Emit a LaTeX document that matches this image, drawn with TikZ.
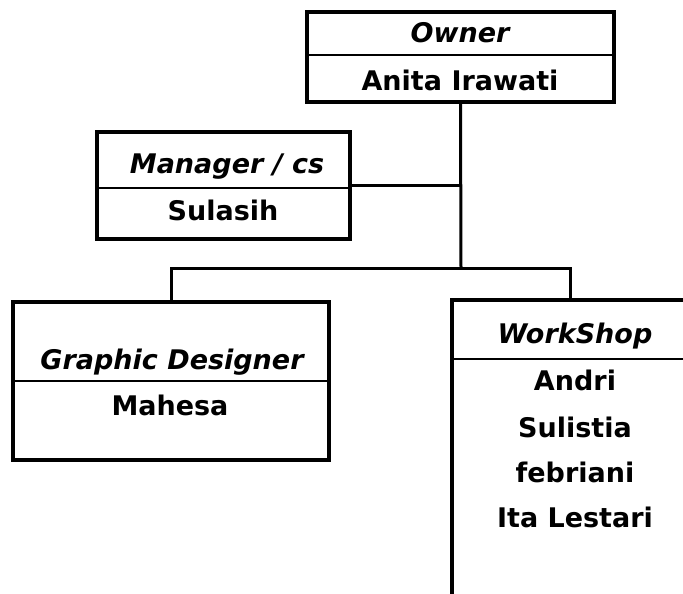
\documentclass[tikz,border=0pt]{standalone}
\usepackage{fontspec}
\setmainfont{DejaVu Sans}
\usetikzlibrary{positioning}

\tikzset{
  unitbox/.style 2 args={draw, line width=3.6pt, minimum width=#1, minimum height=#2, inner sep=0pt},
  rolename/.style={anchor=base, font=\fontsize{27}{32}\selectfont\bfseries\itshape},
  person/.style={anchor=base, font=\fontsize{27}{32}\selectfont\bfseries},
  divider/.style={line width=2.2pt},
  link/.style={line width=3pt},
}

\begin{document}
\begin{tikzpicture}[x=1pt, y=-1pt]
\useasboundingbox (0,0) rectangle (683,594);
\clip (0,0) rectangle (683,594);

% boxes
\node[unitbox={307pt}{90pt}] (owner) at (460.5,57) {};
\node[unitbox={253pt}{107pt}] (manager) at (223.5,185.5) {};
\node[unitbox={316pt}{158pt}] (graphic) at (171,381) {};
\node[unitbox={268pt}{340pt}] (workshop) at (586,470) {};

% dividers
\draw[divider] (owner.west |- 0,55) -- (owner.east |- 0,55);
\draw[divider] (manager.west |- 0,188) -- (manager.east |- 0,188);
\draw[divider] (graphic.west |- 0,381) -- (graphic.east |- 0,381);
\draw[divider] (workshop.west |- 0,359) -- (workshop.east |- 0,359);

% titles and names
\node[rolename] (ownertitle) at (460,43) {Owner};
\node[person] (ownername) at (460,91) {Anita Irawati};

\node[rolename] (managertitle) at (227,173) {Manager / cs};
\node[person] (managername) at (223,220) {Sulasih};

\node[rolename] (graphictitle) at (172,369) {Graphic Designer};
\node[person] (graphicname) at (170,415) {Mahesa};

\node[rolename] (workshoptitle) at (575,343) {WorkShop};
\node[person] (crew1) at (575,390) {Andri};
\node[person] (crew2) at (575,437) {Sulistia};
\node[person] (crew3) at (575,482) {febriani};
\node[person] (crew4) at (575,527) {Ita Lestari};

% connectors
\coordinate (split) at (461,268);
\coordinate (wsdrop) at ([xshift=120pt]workshop.north west);
\draw[link] (owner.south) -- (split);
\draw[link] (manager.east) -- (manager.east -| split);
\draw[link] (graphic.north) |- (split) -| (wsdrop);
\end{tikzpicture}
\end{document}
